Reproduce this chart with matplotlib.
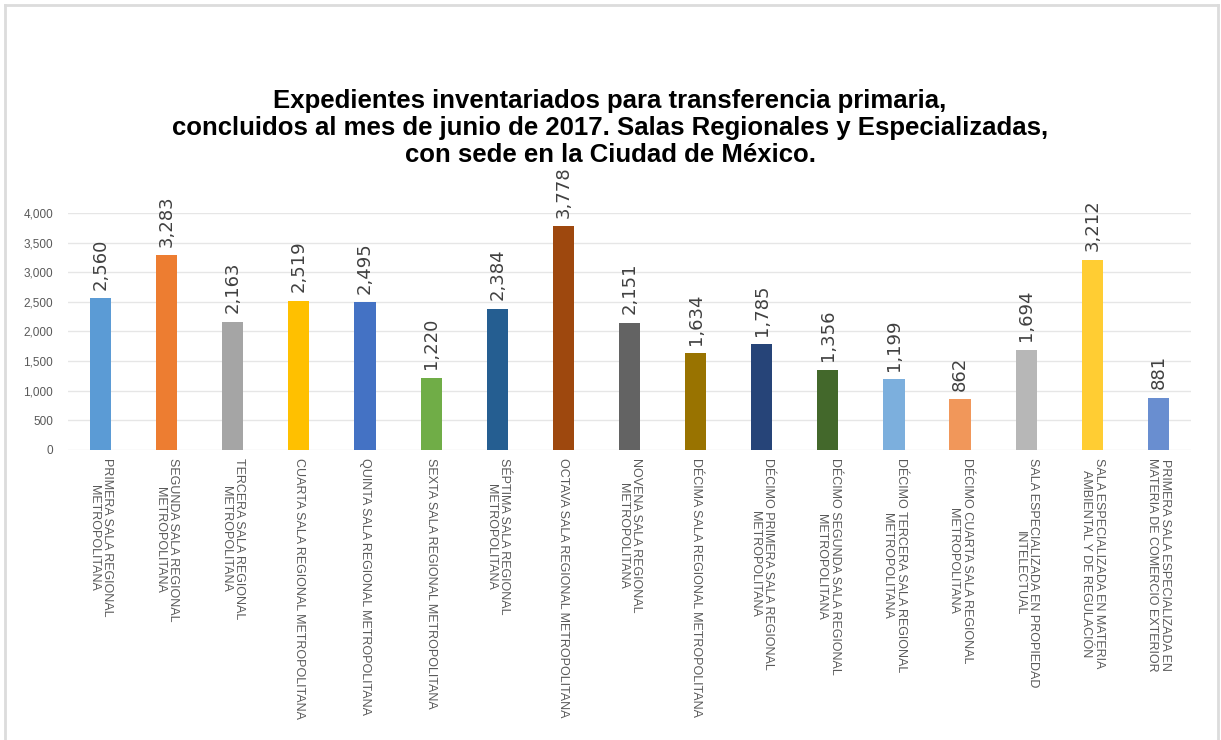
import matplotlib.pyplot as plt
from matplotlib.lines import Line2D
from matplotlib.ticker import FuncFormatter

salas = [
    "PRIMERA SALA REGIONAL\nMETROPOLITANA",
    "SEGUNDA SALA REGIONAL\nMETROPOLITANA",
    "TERCERA SALA REGIONAL\nMETROPOLITANA",
    "CUARTA SALA REGIONAL METROPOLITANA",
    "QUINTA SALA REGIONAL METROPOLITANA",
    "SEXTA SALA REGIONAL METROPOLITANA",
    "SÉPTIMA SALA REGIONAL\nMETROPOLITANA",
    "OCTAVA SALA REGIONAL METROPOLITANA",
    "NOVENA SALA REGIONAL\nMETROPOLITANA",
    "DÉCIMA SALA REGIONAL METROPOLITANA",
    "DÉCIMO PRIMERA SALA REGIONAL\nMETROPOLITANA",
    "DÉCIMO SEGUNDA SALA REGIONAL\nMETROPOLITANA",
    "DÉCIMO TERCERA SALA REGIONAL\nMETROPOLITANA",
    "DÉCIMO CUARTA SALA REGIONAL\nMETROPOLITANA",
    "SALA ESPECIALIZADA EN PROPIEDAD\nINTELECTUAL",
    "SALA ESPECIALIZADA EN MATERIA\nAMBIENTAL Y DE REGULACIÓN",
    "PRIMERA SALA ESPECIALIZADA EN\nMATERIA DE COMERCIO EXTERIOR",
]
expedientes = [2560, 3283, 2163, 2519, 2495, 1220, 2384, 3778, 2151,
               1634, 1785, 1356, 1199, 862, 1694, 3212, 881]
colores = ["#5B9BD5", "#ED7D31", "#A5A5A5", "#FFC000", "#4472C4", "#70AD47",
           "#255E91", "#9E480E", "#636363", "#997300", "#264478", "#43682B",
           "#7CAFDD", "#F1975A", "#B7B7B7", "#FFCD33", "#698ED0"]
y_ticks = [0, 500, 1000, 1500, 2000, 2500, 3000, 3500, 4000]

titulo = ("Expedientes inventariados para transferencia primaria,\n"
          "concluidos al mes de junio de 2017. Salas Regionales y Especializadas,\n"
          "con sede en la Ciudad de México.")

plt.rcParams['font.family'] = ['Liberation Sans', 'DejaVu Sans']

fig = plt.figure(figsize=(12.21, 7.40), dpi=100)
ax = fig.add_axes([0.0553, 0.3919, 0.9205, 0.3203])

x = list(range(len(expedientes)))
bars = ax.bar(x, expedientes, width=0.32, color=colores, zorder=3)

for b, v in zip(bars, expedientes):
    ax.annotate(f"{v:,}", (b.get_x() + b.get_width() / 2, v),
                xytext=(0, 6), textcoords="offset points",
                rotation=90, ha="center", va="bottom",
                fontsize=13, color="#404040", family="DejaVu Sans",
                clip_on=False)

ax.set_xlim(-0.5, len(expedientes) - 0.5)
ax.set_ylim(0, 4000)
ax.set_yticks(y_ticks)
ax.yaxis.set_major_formatter(FuncFormatter(lambda v, p: f"{int(v):,}"))
ax.grid(axis="y", color="#e6e6e6", linewidth=1, zorder=0)
ax.set_xticks(x)
ax.set_xticklabels(salas, rotation=-90, ha="center", va="top",
                   multialignment="center", linespacing=1.15,
                   fontsize=9, color="#595959")
ax.tick_params(axis="x", length=0, pad=6)
ax.tick_params(axis="y", length=0, pad=10.5, labelsize=8.5, labelcolor="#595959")
for s in ax.spines.values():
    s.set_visible(False)

fig.text(0.4996, 0.8270, titulo, ha="center", va="center",
         fontsize=18.5, fontweight="bold", linespacing=1.17)

# marco gris claro alrededor de la grafica
borde = dict(color="#dcdcdc", linewidth=2, transform=fig.transFigure)
fig.lines.append(Line2D([0.0045, 0.0045], [0, 0.9932], **borde))
fig.lines.append(Line2D([0.0045, 0.9975], [0.9932, 0.9932], **borde))
fig.lines.append(Line2D([0.9975, 0.9975], [0, 0.9932], **borde))

fig.savefig("out.png", dpi=100)
